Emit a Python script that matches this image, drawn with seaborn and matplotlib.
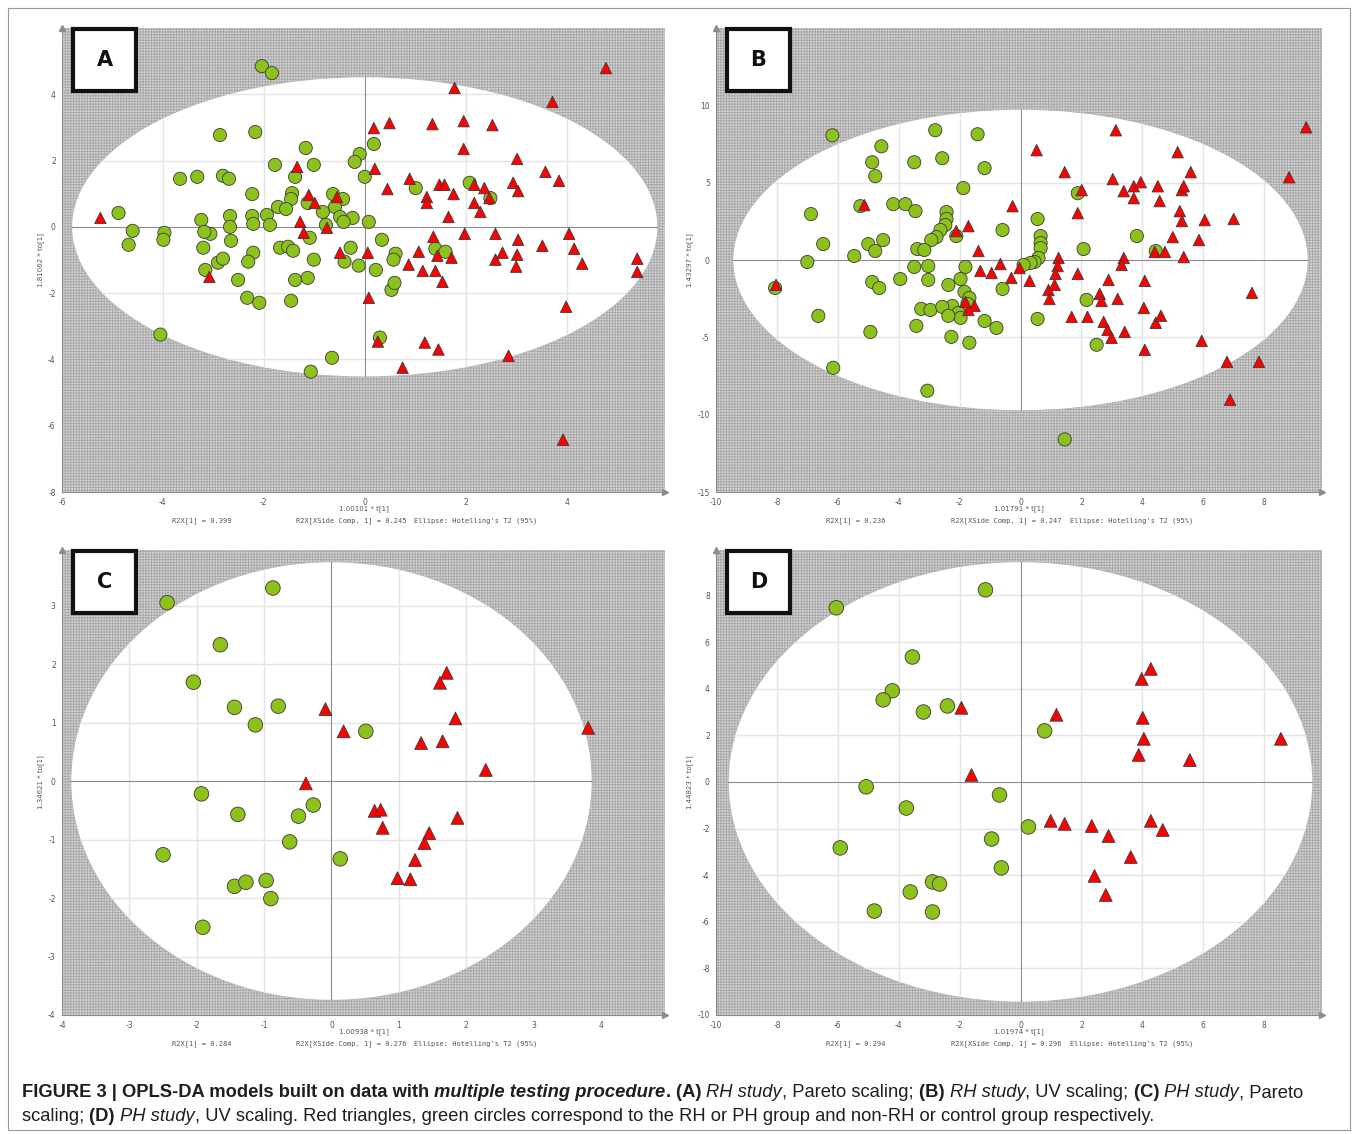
import numpy as np
import pandas as pd
import matplotlib
matplotlib.use('Agg')
import matplotlib.pyplot as plt
import seaborn as sns
from matplotlib.patches import Ellipse, Rectangle
from matplotlib.ticker import AutoMinorLocator

# ---------------- data ----------------
a_ctrl_x = [-2.04, -1.84, -2.87, -2.17, -1.78, -1.17, -1.01, -1.38, -3.66, -3.32, -2.81, -2.69, -2.23, -4.88,
            -0.10, -0.20, 0.18, 0.00, -0.63, -0.43, -0.59, -1.44, -1.46, -1.72, -1.56, -1.94, -2.23, -2.67,
            -3.24, -0.83, -0.49, -0.24, -1.13, -0.42, 0.08, -2.67, -2.21, -1.88, -3.06, -2.65, -1.09, -0.77,
            -3.20, -1.68, -1.52, -1.42, -2.21, -2.31, -2.91, -2.81, -3.16, -1.01, -0.28, -0.40, -0.12, 0.22,
            0.34, 0.61, 0.57, 1.40, 1.60, 1.01, 2.08, 2.49, -2.51, -1.38, -1.13, -4.60, -4.68, -3.97, -3.99,
            -4.05, -2.33, -2.09, -1.46, -0.65, -1.07, 0.30, 0.53, 0.59, -3.18]
a_ctrl_y = [4.85, 4.64, 2.77, 2.86, 1.87, 2.38, 1.87, 1.51, 1.45, 1.51, 1.54, 1.45, 0.99, 0.42,
            2.20, 1.96, 2.50, 1.51, 0.99, 0.84, 0.60, 1.02, 0.84, 0.60, 0.54, 0.36, 0.33, 0.33,
            0.21, 0.45, 0.30, 0.27, 0.72, 0.15, 0.15, 0.00, 0.09, 0.06, -0.21, -0.42, -0.33, 0.06,
            -0.63, -0.63, -0.60, -0.72, -0.78, -1.05, -1.08, -0.96, -1.30, -0.99, -0.63, -1.05, -1.17, -1.30,
            -0.39, -0.81, -0.99, -0.66, -0.75, 1.17, 1.33, 0.87, -1.60, -1.60, -1.54, -0.12, -0.54, -0.18, -0.39,
            -3.25, -2.14, -2.29, -2.23, -3.95, -4.37, -3.34, -1.90, -1.69, -0.15]
a_case_x = [-5.24, -3.08, -1.34, -1.11, -0.99, -0.55, -1.28, -1.21, -0.75, 1.78, 0.18, 0.49, 1.34, 1.96,
            2.53, 1.96, 0.20, 0.45, 0.89, 1.23, 1.23, 1.48, 1.58, 1.76, 2.17, 2.37, 2.47, 2.17, 2.29, 1.66,
            1.36, 1.98, 2.59, 0.06, 1.07, 1.44, 1.72, 0.87, 1.15, 1.40, 2.59, 0.08, 0.26, 0.75, 1.19, 1.46,
            2.85, 3.93, 4.78, 3.72, 3.02, 3.58, 3.85, 2.94, 3.04, 3.04, 3.52, 4.05, 4.15, 4.31, 5.40, 5.40,
            2.73, 3.02, 3.00, -0.49, 3.99, 1.54]
a_case_y = [0.27, -1.51, 1.81, 0.96, 0.72, 0.90, 0.15, -0.18, -0.03, 4.19, 2.98, 3.13, 3.10, 3.19,
            3.07, 2.35, 1.75, 1.14, 1.45, 0.90, 0.72, 1.27, 1.27, 0.99, 1.27, 1.17, 0.87, 0.72, 0.45, 0.30,
            -0.30, -0.21, -0.21, -0.78, -0.75, -0.87, -0.93, -1.14, -1.33, -1.33, -0.99, -2.14, -3.46, -4.25,
            -3.49, -3.70, -3.89, -6.42, 4.79, 3.77, 2.05, 1.66, 1.39, 1.33, 1.08, -0.39, -0.57, -0.21, -0.66,
            -1.11, -0.96, -1.36, -0.78, -0.84, -1.20, -0.78, -2.41, -1.66]

b_ctrl_x = [-6.18, -2.80, -1.41, -4.57, -2.57, -3.49, -4.87, -1.18, -4.77, -1.88, -5.26, -4.18, -3.78, -3.45,
            -6.88, -2.43, -2.43, -2.47, -2.63, -2.76, -2.93, -2.11, -0.59, 0.56, 0.66, 0.66, 0.66, 0.59, 0.46,
            0.33, 0.10, 1.88, 2.07, 3.82, 4.44, -6.48, -7.00, -5.46, -5.00, -4.51, -4.77, -3.39, -3.16, -3.49,
            -3.03, -1.81, -1.97, -1.84, -1.68, -1.74, -4.87, -4.64, -3.95, -3.03, -2.37, -2.24, -3.26, -2.96,
            -2.57, -2.04, -1.97, -2.37, -3.42, -2.27, -1.68, -0.79, -1.18, -4.93, -6.64, -6.15, -3.06, 0.56,
            2.17, 2.50, 1.45, -8.06, -0.59]
b_ctrl_y = [8.06, 8.39, 8.13, 7.35, 6.58, 6.32, 6.32, 5.94, 5.42, 4.65, 3.48, 3.61, 3.61, 3.16,
            2.97, 3.10, 2.65, 2.26, 1.94, 1.48, 1.29, 1.55, 1.94, 2.65, 1.55, 1.10, 0.77, 0.13, -0.13,
            -0.19, -0.32, 4.32, 0.71, 1.55, 0.58, 1.03, -0.13, 0.26, 1.03, 1.29, 0.58, 0.71, 0.65, -0.45,
            -0.39, -0.45, -1.23, -2.06, -2.45, -2.84, -1.42, -1.81, -1.23, -1.29, -1.61, -2.97, -3.16, -3.23,
            -3.03, -3.42, -3.74, -3.61, -4.26, -4.97, -5.35, -4.39, -3.94, -4.65, -3.61, -6.97, -8.45, -3.81,
            -2.58, -5.48, -11.6, -1.81, -1.87]
b_case_x = [3.13, 9.38, 0.53, 5.16, 5.59, 1.45, 3.03, 3.39, 3.72, 3.95, 4.51, 5.30, 5.36, 3.72, 4.57,
            2.01, 1.88, 5.23, 5.30, 6.05, 5.00, 5.86, 4.41, 5.36, 4.74, 8.82, 7.00, -0.26, -2.11, -1.71,
            -5.13, -0.66, -0.03, 0.30, 1.25, 1.22, 1.15, 0.92, 0.95, 1.12, -0.30, -0.95, -1.32, -1.38, 1.88,
            3.39, 3.32, 2.89, 4.08, 2.60, 2.66, 3.19, 1.68, 2.20, 2.73, 2.86, 2.99, 3.42, 4.05, 4.44, 4.61,
            4.08, 5.95, 7.60, 6.78, 7.83, 6.88, -1.51, -1.71, -1.81, -8.03]
b_case_y = [8.39, 8.58, 7.10, 6.97, 5.68, 5.68, 5.23, 4.45, 4.77, 5.03, 4.77, 4.52, 4.77, 4.00, 3.81,
            4.52, 3.03, 3.16, 2.52, 2.58, 1.48, 1.29, 0.52, 0.19, 0.52, 5.35, 2.65, 3.48, 1.87, 2.19,
            3.55, -0.26, -0.52, -1.35, 0.13, -0.39, -0.90, -1.94, -2.52, -1.61, -1.16, -0.84, -0.71, 0.58, -0.90,
            0.13, -0.32, -1.29, -1.35, -2.19, -2.65, -2.52, -3.68, -3.68, -4.00, -4.52, -5.03, -4.65, -3.10, -4.06, -3.61,
            -5.81, -5.23, -2.13, -6.58, -6.58, -9.03, -2.97, -3.23, -2.71, -1.61]

c_ctrl_x = [-2.44, -0.87, -1.65, -2.05, -1.44, -0.79, -1.13, 0.51, -1.93, -1.39, -0.49, -0.27, -0.62, -2.50,
            0.13, -1.44, -1.27, -0.97, -0.90, -1.91]
c_ctrl_y = [3.05, 3.30, 2.33, 1.69, 1.26, 1.28, 0.96, 0.85, -0.22, -0.57, -0.60, -0.41, -1.04, -1.26,
            -1.33, -1.80, -1.73, -1.70, -2.01, -2.50]
c_case_x = [-0.09, 0.18, -0.38, 1.71, 1.61, 1.84, 1.33, 1.65, 2.29, 3.81, 0.64, 0.73, 0.76, 1.87, 1.45,
            1.38, 1.24, 0.98, 1.17]
c_case_y = [1.23, 0.85, -0.04, 1.85, 1.68, 1.07, 0.65, 0.68, 0.19, 0.91, -0.51, -0.49, -0.80, -0.63, -0.89,
            -1.06, -1.35, -1.66, -1.68]

d_ctrl_x = [-6.05, -1.15, -3.55, -4.21, -4.51, -3.19, -2.40, 0.79, -5.07, -3.75, -0.69, -0.95, 0.26, -5.92,
            -0.63, -3.62, -2.89, -2.66, -4.80, -2.89]
d_ctrl_y = [7.47, 8.24, 5.36, 3.91, 3.52, 3.00, 3.26, 2.19, -0.21, -1.12, -0.56, -2.45, -1.93, -2.83,
            -3.69, -4.72, -4.29, -4.38, -5.54, -5.58]
d_case_x = [-1.94, -1.61, 1.18, 3.98, 4.28, 4.01, 4.05, 3.88, 5.56, 8.55, 0.99, 1.45, 2.34, 2.89, 4.28,
            4.67, 3.62, 2.43, 2.80]
d_case_y = [3.18, 0.30, 2.88, 4.42, 4.85, 2.75, 1.85, 1.16, 0.94, 1.85, -1.67, -1.80, -1.89, -2.32, -1.67,
            -2.06, -3.22, -4.03, -4.85]

panel_letters = ['A', 'B', 'C', 'D']
x_labels = ['1.00101 * t[1]', '1.01791 * t[1]', '1.00938 * t[1]', '1.01974 * t[1]']
y_labels = ['1.81062 * to[1]', '1.43297 * to[1]', '1.34621 * to[1]', '1.44823 * to[1]']
r2x_vals = ['0.399', '0.236', '0.284', '0.294']
r2x_side_vals = ['0.245', '0.247', '0.276', '0.296']
x_ticks = [np.arange(-6, 5, 2), np.arange(-10, 9, 2), np.arange(-4, 5, 1), np.arange(-10, 9, 2)]
y_ticks = [np.arange(-8, 5, 2), np.arange(-15, 11, 5), np.arange(-4, 4, 1), np.arange(-10, 9, 2)]

# ---------------- layout (pixels) ----------------
W, H = 1358, 1134
axes_px = [(62, 28, 665, 492), (716, 28, 1322, 492), (62, 550, 665, 1015), (716, 550, 1322, 1015)]
limits = [((-6, 5.95), (-8, 6.0)), ((-10, 9.9), (-15, 15)), ((-4, 4.95), (-4, 3.95)), ((-10, 9.9), (-10, 9.95))]
ellipses = [(5.81, 4.53), (9.45, 9.75), (3.87, 3.75), (9.6, 9.45)]
marker_s = [(90, 68), (90, 68), (110, 85), (110, 85)]

GREEN = '#8cc21a'
RED = '#ff0000'

sns.set_theme(style='white')
plt.rcParams['font.family'] = ['DejaVu Sans']
plt.rcParams['hatch.linewidth'] = 0.7
plt.rcParams['axes.unicode_minus'] = False

fig = plt.figure(figsize=(W / 100, H / 100), dpi=100)


def fx(x):
    return x / W


def fy(y):
    return 1 - y / H


data = [(a_ctrl_x, a_ctrl_y, a_case_x, a_case_y),
        (b_ctrl_x, b_ctrl_y, b_case_x, b_case_y),
        (c_ctrl_x, c_ctrl_y, c_case_x, c_case_y),
        (d_ctrl_x, d_ctrl_y, d_case_x, d_case_y)]

for i in range(4):
    l, t, r, b = axes_px[i]
    ax = fig.add_axes([fx(l), fy(b), (r - l) / W, (b - t) / H])
    cx, cy, tx, ty = data[i]
    df = pd.DataFrame({
        'x': list(cx) + list(tx),
        'y': list(cy) + list(ty),
        'group': ['control'] * len(cx) + ['case'] * len(tx),
    })

    # hatched background + white Hotelling ellipse
    ax.add_patch(Rectangle((0, 0), 1, 1, transform=ax.transAxes, facecolor='#d6d6d6',
                           edgecolor='#a9a9a9', hatch='++++++', lw=0, zorder=0))
    ea, eb = ellipses[i]
    ell = Ellipse((0, 0), 2 * ea, 2 * eb, facecolor='white', edgecolor='#b8b8b8', lw=0.8, zorder=1)
    ax.add_patch(ell)

    xlim, ylim = limits[i]
    for xv in x_ticks[i]:
        if xv != 0:
            ln, = ax.plot([xv, xv], ylim, color='#e4e4e4', lw=1.0, zorder=1.2)
            ln.set_clip_path(ell)
    for yv in y_ticks[i]:
        if yv != 0:
            ln, = ax.plot(xlim, [yv, yv], color='#e4e4e4', lw=1.0, zorder=1.2)
            ln.set_clip_path(ell)
    ln, = ax.plot(xlim, [0, 0], color='#8c8c8c', lw=0.8, zorder=1.5)
    ln.set_clip_path(ell)
    ln, = ax.plot([0, 0], ylim, color='#8c8c8c', lw=0.8, zorder=1.5)
    ln.set_clip_path(ell)

    sns.scatterplot(data=df, x='x', y='y', hue='group', style='group', size='group',
                    palette={'control': GREEN, 'case': RED},
                    markers={'control': 'o', 'case': '^'},
                    sizes={'control': marker_s[i][0], 'case': marker_s[i][1]},
                    edgecolor='#3a3a3a', linewidth=0.6, legend=False, ax=ax, zorder=3)

    ax.set_xlim(xlim)
    ax.set_ylim(ylim)
    ax.set_xticks(x_ticks[i])
    ax.set_yticks(y_ticks[i])
    ax.xaxis.set_minor_locator(AutoMinorLocator(2))
    ax.yaxis.set_minor_locator(AutoMinorLocator(2))
    ax.tick_params(which='both', direction='out', color='#888888', width=0.6,
                   labelsize=5.5, labelcolor='#555555', pad=1.5)
    ax.tick_params(which='major', length=3)
    ax.tick_params(which='minor', length=2)
    for side in ['top', 'right']:
        ax.spines[side].set_visible(False)
    for side in ['left', 'bottom']:
        ax.spines[side].set_color('#8c8c8c')
        ax.spines[side].set_linewidth(0.8)
    ax.plot([1], [0], marker='>', ms=4, color='#8c8c8c', transform=ax.transAxes, clip_on=False)
    ax.plot([0], [1], marker='^', ms=4, color='#8c8c8c', transform=ax.transAxes, clip_on=False)

    ax.set_xlabel('')
    ax.set_ylabel(y_labels[i], fontsize=5, color='#555555', labelpad=3)
    h = b - t
    ax.text(0.5, -17 / h, x_labels[i], transform=ax.transAxes,
            ha='center', va='center', fontsize=5, color='#555555')
    ax.text(0.182, -29 / h, 'R2X[1] = ' + r2x_vals[i], transform=ax.transAxes, ha='left', va='center',
            fontsize=5, family='DejaVu Sans Mono', color='#555555')
    ax.text(0.388, -29 / h, 'R2X[XSide Comp. 1] = ' + r2x_side_vals[i], transform=ax.transAxes,
            ha='left', va='center', fontsize=5, family='DejaVu Sans Mono', color='#555555')
    ax.text(0.584, -29 / h, "Ellipse: Hotelling's T2 (95%)", transform=ax.transAxes, ha='left',
            va='center', fontsize=5, family='DejaVu Sans Mono', color='#555555')

    # panel letter box
    bx0, by0 = l + 11, t + 1
    bw, bh = 63, 62
    fig.add_artist(Rectangle((fx(bx0), fy(by0 + bh)), bw / W, bh / H, transform=fig.transFigure,
                             facecolor='white', edgecolor='#111111', lw=3, zorder=10))
    fig.text(fx(bx0 + bw / 2), fy(by0 + bh / 2), panel_letters[i], ha='center', va='center',
             fontsize=15, fontweight='bold', color='#111111', zorder=11)

# outer border
fig.add_artist(Rectangle((fx(8), fy(1130)), (1350 - 8) / W, (1130 - 8) / H, transform=fig.transFigure,
                         fill=False, edgecolor='#9a9a9a', lw=0.8))

# ---------------- caption ----------------
caption_1 = [('FIGURE 3 | OPLS-DA models built on data with ', 'bold', 'normal'),
             ('multiple testing procedure', 'bold', 'italic'),
             ('. ', 'bold', 'normal'),
             ('(A) ', 'bold', 'normal'),
             ('RH study', 'normal', 'italic'),
             (', Pareto scaling; ', 'normal', 'normal'),
             ('(B) ', 'bold', 'normal'),
             ('RH study', 'normal', 'italic'),
             (', UV scaling; ', 'normal', 'normal'),
             ('(C) ', 'bold', 'normal'),
             ('PH study', 'normal', 'italic'),
             (', Pareto', 'normal', 'normal')]
caption_2 = [('scaling; ', 'normal', 'normal'),
             ('(D) ', 'bold', 'normal'),
             ('PH study', 'normal', 'italic'),
             (', UV scaling. Red triangles, green circles correspond to the RH or PH group and non-RH or '
              'control group respectively.', 'normal', 'normal')]
cap_family = ['Liberation Sans Narrow', 'Liberation Sans', 'DejaVu Sans']
renderer = fig.canvas.get_renderer()


def run_width(txt, size, weight, style):
    t1 = fig.text(0, 0, '|' + txt + '|', fontsize=size, fontweight=weight, fontstyle=style, family=cap_family)
    t2 = fig.text(0, 0, '||', fontsize=size, fontweight=weight, fontstyle=style, family=cap_family)
    w = t1.get_window_extent(renderer).width - t2.get_window_extent(renderer).width
    t1.remove()
    t2.remove()
    return w


def draw_runs(runs, x0, y0, size):
    x = x0
    for txt, weight, style in runs:
        fig.text(fx(x), fy(y0), txt, fontsize=size, fontweight=weight, fontstyle=style,
                 family=cap_family, ha='left', va='baseline', color='#1e1e1e')
        x += run_width(txt, size, weight, style)


base = 12
line_w = sum(run_width(t, base, w, s) for t, w, s in caption_1)
cap_size = base * 1278 / line_w
draw_runs(caption_1, 22, 1097, cap_size)
draw_runs(caption_2, 22, 1121, cap_size)

fig.savefig('out.png', dpi=100)
